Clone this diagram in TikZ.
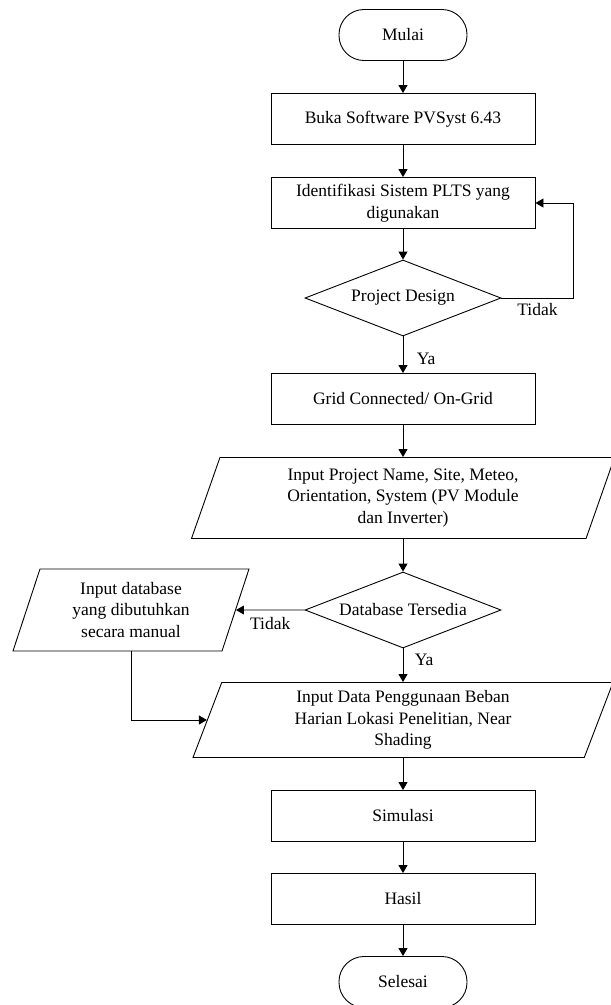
\documentclass[tikz,border=0pt]{standalone}
\usepackage{fontspec}
\setmainfont{Liberation Serif}
\usepackage{tikz}
\usetikzlibrary{shapes.geometric,arrows.meta}
\usetikzlibrary{positioning}

\begin{document}
\begin{tikzpicture}[x=1pt,y=-1pt,
  every node/.style={font=\fontsize{17.5}{21.5}\selectfont},
  terminal/.style={draw,rectangle,rounded corners=25pt,minimum width=128pt,minimum height=51pt,line width=0.9pt},
  proses/.style={draw,rectangle,align=center,minimum width=264pt,minimum height=51pt,line width=0.9pt},
  keputusan/.style={draw,diamond,aspect=2.5,inner sep=0pt,minimum width=196pt,minimum height=76pt,line width=0.9pt},
  masukan/.style={draw,trapezium,trapezium left angle=64,trapezium right angle=116,trapezium stretches body,inner sep=0pt,align=center,line width=0.9pt},
  panah/.style={-{Triangle[length=8pt,width=9pt]},line width=0.9pt}]
\useasboundingbox (0,0) rectangle (611,1005);

\node[terminal] (mulai) at (403,35) {Mulai};
\node[proses] (buka) at (403,119) {Buka Software PVSyst 6.43};
\node[proses] (identifikasi) at (403,203) {Identifikasi Sistem PLTS yang\\digunakan};
\node[keputusan] (design) at (403,298) {Project Design};
\node[proses] (grid) at (403,399) {Grid Connected/ On-Grid};
\node[masukan,minimum width=423pt,minimum height=81pt] (project) at (403,498) {Input Project Name, Site, Meteo,\\Orientation, System (PV Module\\dan Inverter)};
\node[keputusan] (database) at (403,610) {Database Tersedia};
\node[masukan,minimum width=236pt,minimum height=82pt] (manual) at (131,610) {Input database\\yang dibutuhkan\\secara manual};
\node[masukan,minimum width=420pt,minimum height=75pt] (beban) at (403,720) {Input Data Penggunaan Beban\\Harian Lokasi Penelitian, Near\\Shading};
\node[proses] (simulasi) at (403,816) {Simulasi};
\node[proses] (hasil) at (403,899) {Hasil};
\node[terminal] (selesai) at (403,982) {Selesai};
\coordinate[right=72pt of design.east] (belok);

\draw[panah] (mulai) -- (buka);
\draw[panah] (buka) -- (identifikasi);
\draw[panah] (identifikasi) -- (design);
\draw[panah] (design.east) -- node[below,yshift=-2pt]{Tidak} (belok) |- (identifikasi.east);
\draw[panah] (design) -- node[right,pos=0.6,xshift=10pt]{Ya} (grid);
\draw[panah] (grid) -- (project);
\draw[panah] (project.south -| database.north) -- (database);
\draw[panah] (database.west) -- node[below,yshift=-4pt]{Tidak} (manual.east);
\draw[panah] (database) -- node[right,pos=0.35,xshift=8pt]{Ya} (beban);
\draw[panah] (manual.south) |- (beban.west);
\draw[panah] (beban.south -| simulasi.north) -- (simulasi);
\draw[panah] (simulasi) -- (hasil);
\draw[panah] (hasil) -- (selesai);
\end{tikzpicture}
\end{document}
